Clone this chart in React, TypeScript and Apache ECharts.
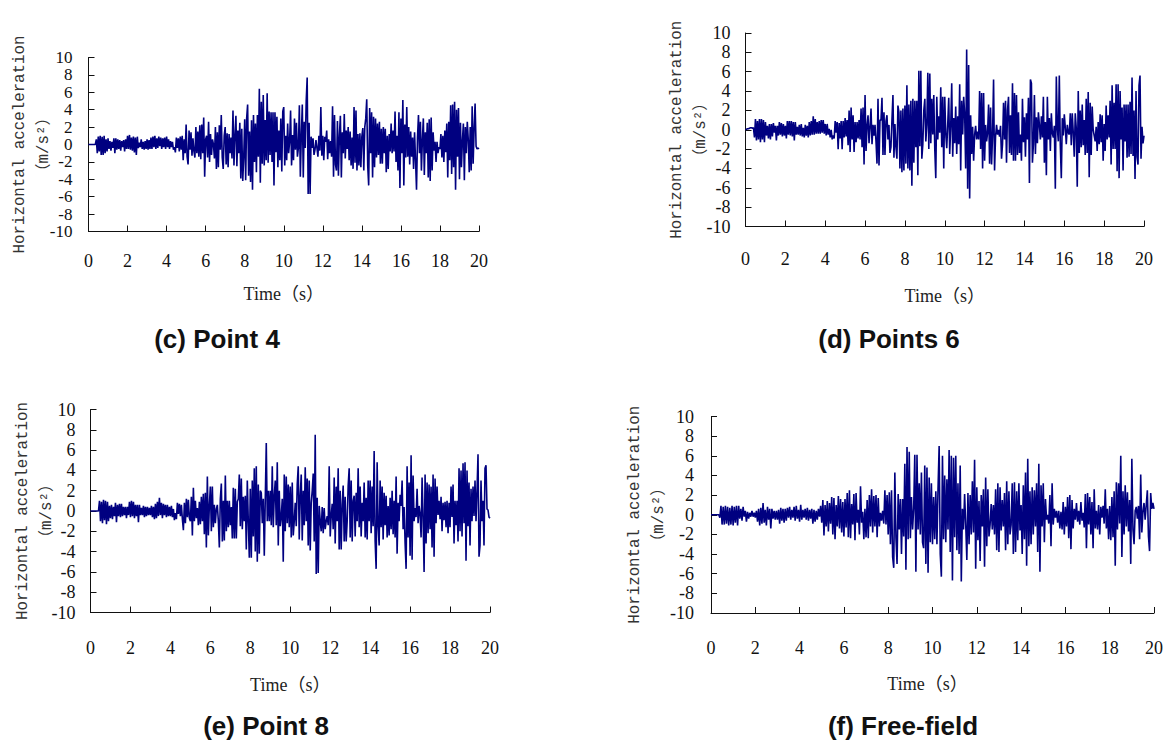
import React, { useEffect, useRef } from "react";
import * as echarts from "echarts";

const xTicks = [0, 20, 2];
const yTicks = [-10, 10, 2];
const sampleStep = 0.05;

const pointC = [
0,0,0,0,0,0,0,0,0.6,-1.0,0.9,-0.8,1.0,-1.2,0.9,-1.2,1.0,-1.0,0.6,-0.8,
0.7,-0.5,0.4,-0.7,0.3,-0.4,0.7,-1.0,0.7,-0.6,0.6,-0.5,0.5,-0.7,0.4,-0.3,0.5,-0.8,0.6,-0.5,
1.0,-0.5,1.1,-0.6,0.8,-0.7,0.9,-0.9,0.8,-1.2,0.9,-0.4,0.2,-0.3,0.6,-0.5,0.3,-0.6,0.4,-0.5,
0.6,-0.6,0.5,-0.5,0.8,-0.5,0.9,-0.3,1.0,-0.5,0.7,-0.4,0.9,-0.2,0.8,-0.5,0.7,-0.3,0.8,-0.5,
0.9,-0.3,0.6,-0.5,0.4,-0.3,0.3,-0.6,-0.3,-0.9,0.8,-0.4,0.7,-0.8,0.9,-0.6,1.0,-1.8,0.6,-1.0,
2.3,-1.4,-2.3,1.6,-0.6,1.4,-1.3,0.7,-0.8,-1.5,2.0,-1.0,1.5,-1.4,2.2,-1.7,2.3,-1.0,3.1,-3.7,
0.6,1.0,-1.5,2.6,-2.0,1.2,-1.2,0.6,0.0,-1.6,2.0,-2.8,1.4,-2.6,2.2,-0.6,3.4,-1.5,-2.8,1.0,
2.0,-2.3,1.3,-2.6,1.2,-1.0,0.8,-1.6,3.9,-2.4,1.0,3.3,-2.5,1.6,-1.0,2.5,-3.9,1.8,-4.2,-1.5,
2.9,-4.1,3.0,4.6,-3.6,1.5,-4.3,2.8,-5.2,3.4,-2.0,2.4,-3.2,3.4,-1.4,6.4,-4.4,4.9,-2.2,5.7,
-2.4,2.8,-1.8,5.9,-2.1,3.8,-1.2,3.7,-2.0,3.7,-4.7,3.7,-0.9,3.2,-2.6,1.6,-1.8,3.0,-3.1,3.8,
4.3,-2.4,1.0,-1.8,2.4,-1.0,0.3,3.9,-2.4,1.1,-1.8,3.0,-0.6,2.5,-1.4,-0.4,4.5,-3.7,1.0,4.6,
-3.8,2.6,-0.4,5.0,7.7,-5.7,2.5,-5.7,0.9,-0.4,0.7,-1.2,-0.6,0.5,-0.4,-1.4,1.0,-0.7,4.3,-1.3,
1.0,-1.8,0.9,0.3,1.6,-1.7,0.6,-1.0,0.4,-1.4,4.4,-3.7,3.4,-2.3,-3.0,2.7,-3.6,1.0,3.3,-3.8,
1.4,-1.0,3.5,-1.6,1.6,-0.5,2.0,-1.8,1.5,-2.4,0.8,-2.8,4.3,-2.1,3.9,-3.0,1.2,-2.4,1.3,-2.6,
0.9,1.9,-3.0,2.0,3.0,5.2,-2.4,-4.7,4.2,-1.0,3.7,-3.8,3.2,-2.6,3.0,-1.5,2.4,-1.2,2.6,-2.2,
1.8,-2.2,2.0,-1.0,1.8,-3.2,1.0,-2.8,1.2,-0.8,2.4,-1.0,1.6,-0.8,3.8,-2.0,1.0,-3.0,3.7,-5.0,
3.0,-1.0,5.1,-4.7,2.3,-1.5,4.3,-1.4,2.0,-2.3,1.5,-1.4,0.8,-2.8,1.4,-1.8,-5.2,0.8,3.4,-1.0,
2.6,-3.0,0.5,3.0,-3.5,1.4,-1.0,2.5,-3.8,2.9,-4.2,3.1,-3.0,1.4,-0.7,0.3,-2.0,0.3,-1.0,-0.3,
-0.5,1.2,-1.5,1.0,-2.0,1.6,-0.9,2.4,-3.8,2.6,-1.8,4.5,-3.4,4.6,-2.6,4.9,-5.2,4.0,-1.4,4.2,
-4.0,2.5,-2.6,0.4,2.4,-4.1,2.0,-1.0,2.6,0.6,-3.2,2.0,-3.0,4.4,-2.2,1.8,4.7,-0.2,-0.5,-0.4,-0.5,
];

const pointD = [
0,0.05,0.1,0.1,0.15,0.2,0.2,0.15,0.2,-0.8,1.1,-1.1,0.9,-1.0,1.1,-1.3,1.1,-1.0,1.0,-1.3,
0.8,-0.6,0.4,-0.9,0.6,-1.0,0.6,-0.7,0.7,-0.3,0.4,-1.1,0.4,-0.6,0.8,-0.5,0.7,-0.7,0.6,-0.6,
0.4,-0.9,0.9,-0.5,0.9,-0.6,0.9,-0.7,0.8,-1.1,0.8,-0.5,0.3,-0.5,0.5,-0.6,0.6,-0.7,0.2,-0.8,
0.5,-0.6,0.4,-0.8,0.8,-0.6,0.9,-0.5,1.4,-0.5,1.1,-0.4,0.8,-0.4,0.9,-0.4,1.0,-0.3,1.0,-0.4,
0.6,-0.6,0.6,-0.5,0.1,-0.8,0.0,-1.0,-0.6,-0.9,0.9,-0.3,0.8,-2.0,0.7,-0.9,0.9,-2.0,0.9,-0.8,
1.2,-0.7,1.0,-1.6,2.0,-2.3,2.3,-1.0,1.5,-2.3,0.8,-1.3,0.8,-0.9,1.0,-1.0,2.2,-1.8,2.3,-3.6,
3.6,-2.2,0.4,1.5,-1.4,0.3,2.2,-1.5,0.5,-0.6,0.5,-1.2,-3.5,3.2,-3.7,1.0,1.0,3.3,-2.6,1.8,
-2.6,0.9,1.5,-1.0,0.5,-2.4,-1.8,1.0,3.6,-2.9,0.6,-1.8,-3.0,2.5,1.8,-4.0,2.0,-4.4,2.2,-4.2,
2.5,-3.5,4.6,-4.0,2.6,-4.2,3.0,-5.8,3.2,-3.4,3.0,-1.8,3.0,-4.7,6.1,-1.7,6.1,-3.0,-1.5,2.0,
3.2,-1.2,0.5,5.9,-2.0,5.8,-1.4,3.2,-0.5,3.6,-2.0,-5.0,3.4,-1.0,1.4,-0.3,4.4,-1.8,3.4,-4.0,
3.4,-0.4,-1.9,0.6,3.3,-2.5,0.4,4.8,-2.8,1.2,-1.4,2.4,-2.5,1.4,-1.5,4.7,-4.2,3.0,-0.5,3.4,
1.6,-4.0,8.3,-6.1,6.7,-7.1,1.5,-2.5,0.3,-3.2,-0.5,0.4,-1.0,-0.2,-1.0,4.0,-2.0,3.8,-4.0,3.8,
-3.2,0.5,-1.2,-0.3,2.6,-3.5,2.3,-3.6,-0.5,5.2,-4.2,-0.7,0.5,-0.5,0.0,-0.7,0.4,-3.0,-1.5,2.8,
-1.0,3.0,-3.4,2.0,3.4,-2.4,1.5,-2.6,4.8,-3.2,3.8,-3.2,3.6,-2.6,1.8,-2.4,-0.5,-3.2,3.2,-1.3,
1.3,-2.8,1.7,-1.0,3.3,-5.5,5.2,4.8,-3.4,-1.5,3.6,-2.5,1.3,-1.4,1.8,0.5,-1.0,1.4,-0.8,3.4,
-3.4,0.8,-4.7,3.4,-1.0,1.2,-2.2,1.7,-0.4,-0.8,0.4,-6.1,5.5,0.2,-1.2,5.6,-1.6,-5.0,1.2,-0.6,
1.6,0.2,-1.5,0.5,-0.3,-0.5,1.7,-1.6,1.7,-0.3,-2.8,1.7,0.2,-5.9,4.0,-2.4,2.0,-1.8,2.6,-1.6,
1.0,-2.6,3.2,-2.4,3.9,-4.9,2.8,-2.6,2.4,0.0,-0.6,-1.2,0.3,-2.2,0.8,-1.5,1.6,-1.3,1.5,-3.2,
0.6,-2.2,2.5,-1.0,1.5,-0.8,3.0,-3.6,4.6,-2.0,2.8,-2.0,4.7,-4.3,4.7,-5.0,4.0,-1.0,2.3,-4.2,
2.6,-1.2,2.6,-2.9,2.6,-2.8,2.9,-2.5,5.4,-2.7,2.0,-5.1,4.0,-2.8,-3.6,4.6,5.6,-3.0,0.3,-1.4,-0.6,
];

const pointE = [
0,0,0,0,0,0,0,0,0.0,1.0,-1.0,0.9,-1.2,1.1,-0.9,1.0,-1.3,0.9,-1.0,0.5,
-0.7,0.6,-0.8,0.4,-0.5,0.8,-1.1,0.6,-0.5,0.7,-0.6,0.7,-0.5,0.4,-0.4,0.4,-0.7,0.4,-0.4,0.9,
-0.6,1.0,-0.5,0.9,-0.7,0.6,-0.5,0.6,-1.1,0.6,-0.4,0.3,-0.4,0.5,-0.6,0.4,-0.5,0.4,-0.4,0.3,
-0.4,0.5,-0.6,0.4,-0.8,0.7,-0.7,0.9,-0.5,1.3,-0.4,0.8,-0.7,0.7,-0.4,0.6,-0.6,0.6,-0.5,0.4,
-0.5,0.5,-0.6,0.2,-0.9,-0.2,-0.8,0.8,-0.3,0.7,-0.5,0.6,-0.8,-1.9,0.8,-1.2,1.2,-0.6,1.1,-0.7,
-1.0,1.4,-2.4,2.3,-1.0,1.0,-0.7,0.3,-1.4,0.9,-1.3,1.4,-1.0,1.7,-2.3,1.8,-3.6,3.4,-2.4,0.5,
2.4,-2.0,2.4,-1.6,0.6,-1.2,0.2,0.6,-1.0,-3.6,1.2,2.7,-3.0,1.0,-2.9,3.5,-2.0,1.0,-1.6,1.0,
-1.4,0.4,-2.7,2.3,-2.7,2.2,-2.7,0.9,1.2,3.6,-1.5,3.2,-1.8,1.4,-1.0,1.5,-3.8,3.0,-1.0,-4.6,
2.2,-4.6,3.0,-2.5,4.2,-4.0,4.4,-5.0,2.6,-4.2,2.0,1.8,-1.2,1.2,-4.4,1.2,6.7,-1.0,2.0,-1.0,
2.0,-1.4,4.4,-1.6,1.5,3.0,-1.4,4.8,-3.4,2.0,-1.5,-0.6,1.2,-5.0,3.6,-2.0,3.4,-1.2,2.6,-1.6,
2.4,-2.6,2.8,-2.4,-1.0,0.8,-1.5,2.6,4.4,-2.8,1.5,3.6,-2.9,2.0,-1.4,4.3,-1.0,3.2,-3.4,3.0,
-3.9,0.8,2.0,3.7,-3.0,7.5,-6.2,1.3,-6.1,0.5,-1.0,-2.0,0.4,-2.2,0.3,-1.8,-1.0,-0.5,-1.4,4.4,
-2.5,-0.5,0.7,-1.8,3.3,-3.2,2.4,-1.0,4.2,-3.8,2.0,-3.8,0.6,2.5,-3.0,1.4,-3.0,-1.0,2.5,4.2,
-2.6,3.0,-3.0,1.0,1.5,-2.5,1.8,-1.0,4.2,-1.6,2.4,-2.5,0.8,-1.0,2.8,-2.6,1.3,-2.8,3.0,-1.0,
3.0,-2.2,2.4,-1.5,5.9,-3.0,-5.7,4.8,-1.5,-3.4,3.0,-1.6,2.4,-2.8,1.8,-1.4,1.5,-2.6,0.5,-2.4,
1.3,-1.8,2.0,-2.3,1.0,-2.6,3.4,-4.2,0.8,-1.0,1.6,0.5,3.0,-1.8,0.4,-3.2,-5.7,4.4,-2.6,2.8,
-4.4,5.5,-4.8,3.5,-1.0,0.3,-0.6,2.2,-1.2,0.5,-0.3,-2.6,3.3,-0.6,-6.0,3.6,-3.2,2.8,-2.2,2.6,
-1.8,2.4,-3.6,3.6,-4.5,3.2,-1.2,2.4,-0.4,1.0,-0.8,1.4,-2.0,0.8,-0.9,0.9,-1.6,1.0,-2.2,0.8,
-1.6,2.4,-0.6,2.6,-3.2,1.0,-1.4,1.0,-3.0,4.2,-2.0,4.0,-2.5,4.7,-1.2,4.8,-4.9,4.0,-1.5,2.8,
-3.4,2.2,-1.0,2.4,-0.5,3.0,-1.0,2.0,5.6,-4.5,-3.4,3.0,-1.0,1.0,-3.4,4.2,4.5,0.2,0.1,-0.6,-0.7,
];

const pointF = [
0,0,0,0,0,0,0,0,-0.3,0.9,-1.0,0.8,-1.0,0.9,-0.9,0.8,-1.1,0.7,-1.0,0.9,
-1.1,0.8,-0.8,0.9,-1.1,0.9,-0.4,0.6,-0.6,0.8,-0.2,0.4,-0.7,0.3,-0.4,0.2,-0.2,0.4,-0.2,0.2,
-0.3,0.4,-0.7,0.6,-1.1,0.7,-0.9,1.2,-0.8,0.5,-1.1,0.8,-0.5,0.6,-1.4,0.6,-0.4,0.4,-0.5,0.4,
-0.5,0.5,-0.9,0.7,-0.6,0.6,-0.8,0.6,-0.6,0.7,-0.3,0.8,-0.5,0.5,-0.3,0.8,-0.6,0.9,-0.4,0.5,
-0.7,1.0,-0.5,0.5,-0.3,0.6,-0.5,0.7,-0.6,0.5,-0.4,0.6,-0.9,0.5,-0.7,0.4,-0.5,0.6,-0.2,0.9,
-0.8,1.5,-2.1,1.0,-1.2,1.4,-1.7,1.2,-0.9,1.8,-2.0,1.7,-2.5,1.0,-1.2,1.9,-1.4,1.6,-1.8,1.3,
-2.2,1.6,-1.3,2.2,-2.3,2.5,-2.4,1.1,-1.0,2.1,-2.6,2.2,-0.8,0.5,-2.0,2.9,-0.8,0.3,-2.5,0.6,
-2.3,1.5,-2.4,2.0,-1.2,2.6,-1.8,1.9,-1.2,2.0,-2.3,1.7,-1.2,0.2,-0.6,0.4,-0.9,2.5,-1.0,2.0,
-2.0,2.3,-3.0,2.5,-4.3,-5.4,4.3,-2.4,-5.0,2.1,-1.5,1.6,-4.0,1.6,-2.2,5.2,-5.6,6.9,-2.5,6.4,
-2.4,1.8,-1.5,0.6,6.1,-5.8,6.1,-1.5,3.2,-2.0,4.3,-2.8,-3.4,5.0,-5.0,4.8,-5.9,3.8,-2.8,3.2,
-3.0,1.8,-2.5,2.4,-3.0,2.7,7.0,-4.0,-6.3,6.0,-2.5,4.0,-2.8,3.6,-1.5,6.6,-3.8,6.0,-6.7,5.8,
-2.3,6.0,-3.6,3.2,-4.0,5.0,-6.8,0.6,-1.5,2.1,-1.0,-4.6,2.2,-3.0,2.0,-2.0,3.4,-1.8,5.6,-5.5,
2.8,-2.6,1.4,-4.7,2.0,-1.2,2.6,-5.3,3.8,-3.2,2.6,-2.2,-1.0,1.1,-1.5,1.0,-2.0,2.6,-3.6,3.2,
-3.8,2.8,-1.6,1.5,-1.2,2.2,-3.6,3.4,-3.0,2.4,-2.0,-1.0,3.2,-4.0,3.3,-3.8,2.4,-2.6,3.2,-1.6,
1.0,-4.0,3.0,-2.5,4.3,-5.2,5.7,-3.2,2.4,-3.0,2.8,-2.0,2.5,-1.2,3.2,-3.8,5.2,-5.8,3.0,-1.2,
3.2,-2.8,1.6,-0.5,0.0,-0.9,2.0,-3.2,3.2,-1.0,0.6,-0.3,0.4,-0.8,0.4,-1.4,0.3,-1.5,1.3,-2.0,
0.8,-1.2,1.8,-2.4,2.0,-3.5,1.5,-1.4,0.6,-0.5,1.2,-0.7,0.4,-1.0,1.3,-0.6,0.2,-1.3,2.1,-3.4,
2.2,-1.0,1.8,-2.0,1.3,-3.4,2.6,-1.4,0.4,-1.5,1.0,-2.0,0.8,-0.3,0.9,-0.9,2.6,-1.4,0.6,-2.5,
0.9,-2.6,1.8,-2.3,2.4,-5.2,3.3,-1.5,3.2,-0.9,6.0,-4.3,2.4,-2.0,3.0,-1.2,2.3,-1.7,1.5,-5.0,
5.7,-1.5,-3.0,0.4,0.8,-0.4,0.9,-2.5,4.1,-1.8,0.3,1.2,-0.5,1.0,2.5,-2.2,-3.7,2.2,0.6,1.2,0.6,
];

const panels = [
  { title: "(c) Point 4", series: pointC, left: 88.5, top: 57.5, right: 479, bottom: 231.5, yNameGap: 33, xNameGap: 53, xMargin: 20, yMargin: 16, yFont: 17, namePad: 0, titleX: 217, titleY: 326 },
  { title: "(d) Points 6", series: pointD, left: 745.5, top: 33, right: 1144, bottom: 226.5, yNameGap: 33, xNameGap: 60, xMargin: 23, yMargin: 15, yFont: 18, namePad: 0, titleX: 889, titleY: 326 },
  { title: "(e) Point 8", series: pointE, left: 90.5, top: 409.5, right: 490, bottom: 612.5, yNameGap: 32, xNameGap: 63, xMargin: 26, yMargin: 15, yFont: 18, namePad: 0, titleX: 266, titleY: 713 },
  { title: "(f) Free-field", series: pointF, left: 711, top: 416.5, right: 1154, bottom: 613, yNameGap: 40, xNameGap: 62, xMargin: 26, yMargin: 17, yFont: 18, namePad: 10, titleX: 903, titleY: 712.5 },
];

const serif = '"Liberation Serif", "Noto Sans CJK SC", serif';

export default function App() {
  const ref = useRef<HTMLDivElement>(null);
  useEffect(() => {
    document.body.style.margin = "0";
    const chart = echarts.init(ref.current!, undefined, { renderer: "svg" });
    const lineStyle = { color: "#111", width: 1 };
    chart.setOption({
      animation: false,
      backgroundColor: "#fff",
      title: panels.map((p) => ({
        text: p.title,
        left: p.titleX,
        top: p.titleY,
        textAlign: "center",
        padding: 0,
        textStyle: { fontFamily: '"Liberation Sans", Arial, sans-serif', fontWeight: "bold", fontSize: 26, color: "#111" },
      })),
      grid: panels.map((p) => ({ left: p.left, top: p.top, width: p.right - p.left, height: p.bottom - p.top, containLabel: false, outerBoundsMode: "none" })),
      xAxis: panels.map((p, i) => ({
        type: "value",
        gridIndex: i,
        min: xTicks[0],
        max: xTicks[1],
        interval: xTicks[2],
        name: "Time（s）",
        nameLocation: "middle",
        nameGap: p.xNameGap,
        nameMoveOverlap: false,
        nameTextStyle: { fontFamily: serif, fontSize: 18, color: "#222", padding: [0, p.namePad, 0, 0] },
        axisLine: { onZero: false, lineStyle },
        axisTick: { show: true, inside: true, length: 6, lineStyle },
        axisLabel: { margin: p.xMargin, fontFamily: serif, fontSize: 18, color: "#111", showMinLabel: true, showMaxLabel: true },
        splitLine: { show: false },
      })),
      yAxis: panels.map((p, i) => ({
        type: "value",
        gridIndex: i,
        min: yTicks[0],
        max: yTicks[1],
        interval: yTicks[2],
        name: "Horizontal acceleration\n（m/s²）",
        nameLocation: "middle",
        nameRotate: 90,
        nameGap: p.yNameGap,
        nameMoveOverlap: false,
        nameTextStyle: { fontFamily: '"Liberation Mono", "Noto Sans CJK SC", monospace', fontSize: 15.8, lineHeight: 24, color: "#333" },
        axisLine: { show: true, onZero: false, lineStyle },
        axisTick: { show: true, inside: true, length: 6, lineStyle },
        axisLabel: { margin: p.yMargin, fontFamily: serif, fontSize: p.yFont, lineHeight: p.yFont - 1, color: "#111", showMinLabel: true, showMaxLabel: true, hideOverlap: false },
        splitLine: { show: false },
      })),
      series: panels.map((p, i) => ({
        type: "line",
        xAxisIndex: i,
        yAxisIndex: i,
        showSymbol: false,
        silent: true,
        lineStyle: { color: "#000080", width: 1.6 },
        data: p.series.map((v, k) => [k * sampleStep, v]),
      })),
    });
    return () => chart.dispose();
  }, []);
  return <div ref={ref} style={{ position: "absolute", left: 0, top: 0, width: 1166, height: 740 }} />;
}
